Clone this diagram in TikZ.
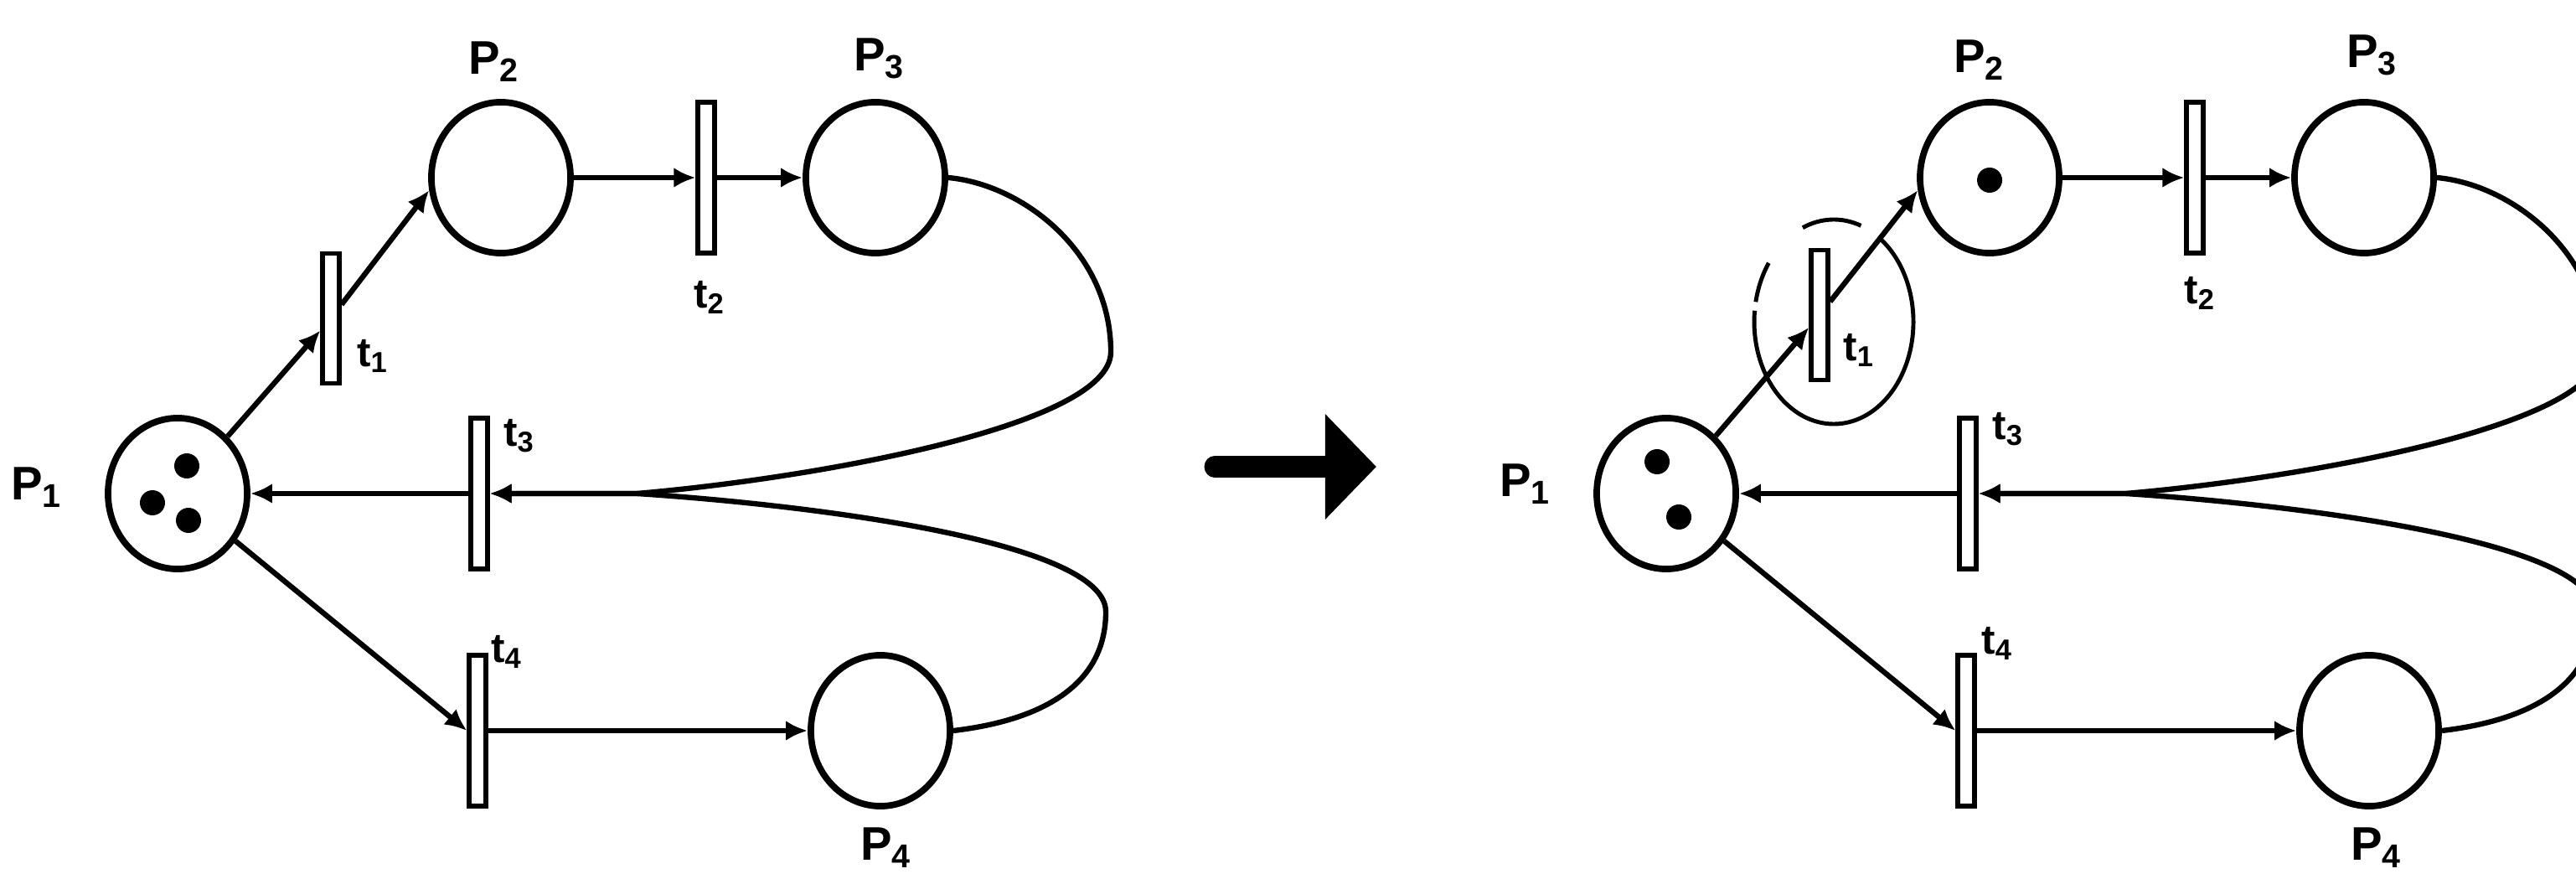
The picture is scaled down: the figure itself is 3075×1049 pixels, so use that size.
\documentclass[tikz,border=0pt]{standalone}
\usepackage{fontspec}
\setmainfont{Liberation Sans}
\usepackage{tikz}
\usetikzlibrary{shapes.geometric,arrows.meta}
\tikzset{
  place/.style={draw,ellipse,line width=2.2pt,minimum width=1.66cm,minimum height=1.80cm,inner sep=0pt},
  trans/.style={draw,rectangle,line width=1.5pt,fill=white,minimum width=0.2cm,minimum height=1.8cm,inner sep=0pt},
  flow/.style={line width=1.8pt,-{Latex[length=0.26cm,width=0.24cm]}},
  plabel/.style={font=\fontsize{16}{18}\selectfont\bfseries,inner sep=0pt},
  tlabel/.style={font=\fontsize{14}{16}\selectfont\bfseries,inner sep=0pt},
  ring/.style={line width=1.4pt}
}

\begin{document}
\begin{tikzpicture}[x=0.01cm,y=-0.01cm]
\useasboundingbox (0,0) rectangle (3075,1049);
\clip (0,0) rectangle (3075,1049);
% marking before firing t1
\node[place] (P1) at (212,589) {};
\node[place] (P2) at (598,212) {};
\node[place] (P3) at (1045,212) {};
\node[place] (P4) at (1051,872) {};
\node[trans,minimum height=1.55cm] (t1) at (395,380) {};
\node[trans] (t2) at (843,212) {};
\node[trans] (t3) at (572,589) {};
\node[trans] (t4) at (570,872) {};
\node[plabel] (lP1) at (44,582) {P\textsubscript{1}};
\node[plabel] (lP2) at (590,74) {P\textsubscript{2}};
\node[plabel] (lP3) at (1050,70) {P\textsubscript{3}};
\node[plabel] (lP4) at (1058,1012) {P\textsubscript{4}};
\node[tlabel] (lt1) at (445,425) {t\textsubscript{1}};
\node[tlabel] (lt2) at (847,355) {t\textsubscript{2}};
\node[tlabel] (lt3) at (620,520) {t\textsubscript{3}};
\node[tlabel] (lt4) at (605,778) {t\textsubscript{4}};
\fill ([shift={(11,-33)}]P1.center) circle[radius=15];
\fill ([shift={(-30,11)}]P1.center) circle[radius=15];
\fill ([shift={(13,32)}]P1.center) circle[radius=15];
\coordinate (turnA) at (1326,420);
\coordinate (turnB) at (1320,730);
\coordinate (merge) at (760,589);
\draw[flow] (P1) -- (t1);
\draw[flow] (t1) -- (P2.190);
\draw[flow] (P2) -- (t2);
\draw[flow] (t2) -- (P3);
\draw[flow] (P3.east) .. controls (1220,220) and (1326,300) .. (turnA)
  .. controls (1326,510) and (960,572) .. (merge) -- (t3.east);
\draw[flow] (P4.east) .. controls (1240,860) and (1320,820) .. (turnB)
  .. controls (1320,645) and (960,602) .. (merge) -- (t3.east);
\draw[flow] (t3) -- (P1);
\draw[flow] (P1) -- (t4.west);
\draw[flow] (t4) -- (P4);
% firing arrow
\coordinate (go) at (1450,557);
\coordinate (gone) at (1643,557);
\draw[line width=0.25cm,line cap=round,-{Triangle[length=0.61cm,width=1.22cm]}] (go) -- (gone);
% marking after firing t1
\begin{scope}[xshift=17.76cm]
\node[place] (P1b) at (212,589) {};
\node[place] (P2b) at (598,212) {};
\node[place] (P3b) at (1045,212) {};
\node[place] (P4b) at (1051,872) {};
\node[trans,minimum height=1.55cm] (t1b) at (395,376) {};
\node[trans] (t2b) at (843,212) {};
\node[trans] (t3b) at (572,589) {};
\node[trans] (t4b) at (570,872) {};
\node[plabel] (lP1b) at (44,578) {P\textsubscript{1}};
\node[plabel] (lP2b) at (586,72) {P\textsubscript{2}};
\node[plabel] (lP3b) at (1055,66) {P\textsubscript{3}};
\node[plabel] (lP4b) at (1060,1012) {P\textsubscript{4}};
\node[tlabel] (lt1b) at (442,418) {t\textsubscript{1}};
\node[tlabel] (lt2b) at (849,350) {t\textsubscript{2}};
\node[tlabel] (lt3b) at (620,512) {t\textsubscript{3}};
\node[tlabel] (lt4b) at (607,768) {t\textsubscript{4}};
\fill ([shift={(-11,-38)}]P1b.center) circle[radius=15];
\fill ([shift={(15,28)}]P1b.center) circle[radius=15];
\fill ([shift={(0,3)}]P2b.center) circle[radius=15];
% ring round the enabled transition
\coordinate (hl) at ([shift={(17,8)}]t1b.center);
\draw[ring] (hl) ++(-53:95 and 122) arc[start angle=-53,end angle=163,x radius=95,y radius=122];
\draw[ring,dash pattern=on 14pt off 3pt] (hl) ++(163:95 and 122) arc[start angle=163,end angle=218,x radius=95,y radius=122];
\draw[ring] (hl) ++(247:95 and 122) arc[start angle=247,end angle=290,x radius=95,y radius=122];
\coordinate (turnAb) at (1326,420);
\coordinate (turnBb) at (1320,730);
\coordinate (mergeb) at (760,589);
\draw[flow] (P1b) -- (t1b);
\draw[flow] (t1b) -- (P2b.190);
\draw[flow] (P2b) -- (t2b);
\draw[flow] (t2b) -- (P3b);
\draw[flow] (P3b.east) .. controls (1220,220) and (1326,300) .. (turnAb)
  .. controls (1326,510) and (960,572) .. (mergeb) -- (t3b.east);
\draw[flow] (P4b.east) .. controls (1240,860) and (1320,820) .. (turnBb)
  .. controls (1320,645) and (960,602) .. (mergeb) -- (t3b.east);
\draw[flow] (t3b) -- (P1b);
\draw[flow] (P1b) -- (t4b.west);
\draw[flow] (t4b) -- (P4b);
\end{scope}
\end{tikzpicture}
\end{document}
